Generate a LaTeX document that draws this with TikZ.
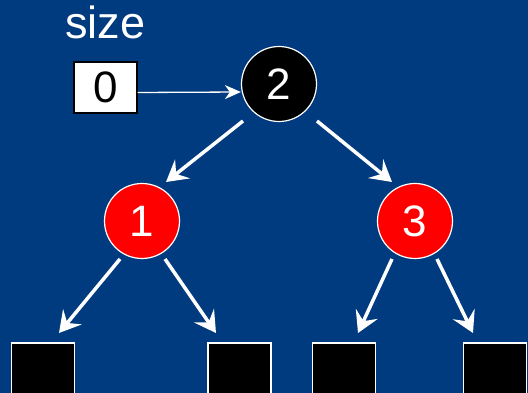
\documentclass[tikz,border=0pt]{standalone}
\usepackage{fontspec}
\setmainfont{Liberation Sans}
\usetikzlibrary{shapes.geometric, arrows.meta}
\definecolor{slideblue}{RGB}{0,59,127}
\tikzstyle{rbnode} = [circle,
minimum size=75pt,
inner sep=0pt,
draw=white, line width=1.2pt,
text=white,
font=\fontsize{44}{44}\selectfont]
\tikzstyle{blacknode} = [rbnode, fill=black]
\tikzstyle{rednode} = [rbnode, fill=red]
\tikzstyle{leaf} = [rectangle,
minimum size=63pt,
inner sep=0pt,
fill=black,
draw=white, line width=1.2pt]
\tikzstyle{arrow} = [white, line width=3.5pt, -{Stealth[length=21pt, width=24pt, inset=8pt]}]
\tikzstyle{pointer} = [white, line width=1.3pt, -{Stealth[length=16pt, width=14pt, inset=5pt]}]

\begin{document}
\begin{tikzpicture}[x=1pt, y=-1pt]
        \fill[slideblue] (0,0) rectangle (528,393);
        \useasboundingbox (0,0) rectangle (528,393);
        \clip (0,0) rectangle (528,393);

        \node (n2) [blacknode] at (279,84) {2};
        \node (n1) [rednode] at ([shift={(-137,137)}]n2.center) {1};
        \node (n3) [rednode] at ([shift={(136,137)}]n2.center) {3};
        \node (leaf1) [leaf] at ([shift={(-99,153.5)}]n1.center) {};
        \node (leaf2) [leaf] at ([shift={(97.5,153.5)}]n1.center) {};
        \node (leaf3) [leaf] at ([shift={(-71,153.5)}]n3.center) {};
        \node (leaf4) [leaf] at ([shift={(80,153.5)}]n3.center) {};

        \node (sizebox) [rectangle, draw=black, line width=1.2pt, fill=white,
            minimum width=63pt, minimum height=51pt, inner sep=0pt,
            font=\fontsize{44}{44}\selectfont] at (105.5,87.5) {0};
        \node (sizelabel) [anchor=base, inner sep=0pt, text=white,
            font=\fontsize{45}{45}\selectfont] at ([yshift=23pt]sizebox.north) {size};

        \draw [pointer] ([yshift=-5pt]sizebox.east) -- ([yshift=-8pt]n2.west);
        \draw [arrow] ([shift={(-36,37)}]n2.center) -- ([shift={(24,-39)}]n1.center);
        \draw [arrow] ([shift={(38,37)}]n2.center) -- ([shift={(-23,-39)}]n3.center);
        \draw [arrow] ([shift={(-22,38)}]n1.center) -- ([shift={(16,-41.5)}]leaf1.center);
        \draw [arrow] ([shift={(23,38)}]n1.center) -- ([shift={(-23.5,-41.5)}]leaf2.center);
        \draw [arrow] ([shift={(-23,38)}]n3.center) -- ([shift={(14,-41.5)}]leaf3.center);
        \draw [arrow] ([shift={(22,38)}]n3.center) -- ([shift={(-22,-41.5)}]leaf4.center);
    \end{tikzpicture}
\end{document}
